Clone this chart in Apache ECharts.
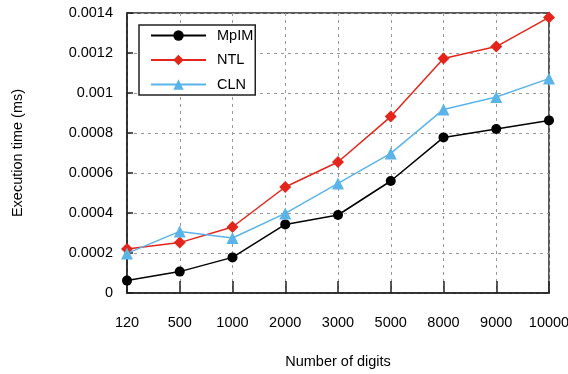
<!DOCTYPE html>
<html>
<head>
<meta charset="utf-8">
<script src="https://cdn.jsdelivr.net/npm/echarts@6/dist/echarts.min.js"></script>
<style>
  html, body { margin: 0; padding: 0; background: #fff; }
  #chart { width: 568px; height: 374px; }
</style>
</head>
<body>
<div id="chart"></div>
<script>
// Digit counts tested on the horizontal axis
const digits = ['120', '500', '1000', '2000', '3000', '5000', '8000', '9000', '10000'];

// Execution time in ms for each library
const mpimTimes = [0.000062, 0.000107, 0.000178, 0.000343, 0.00039, 0.00056, 0.000778, 0.00082, 0.000863];
const ntlTimes  = [0.00022, 0.000252, 0.00033, 0.00053, 0.000655, 0.000882, 0.001172, 0.001232, 0.001378];
const clnTimes  = [0.000198, 0.000308, 0.000275, 0.000398, 0.000548, 0.000698, 0.000918, 0.00098, 0.001072];

const FONT = 'Liberation Sans, Arial, Helvetica, sans-serif';
const FS = 14.5;

const chart = echarts.init(document.getElementById('chart'), null, { renderer: 'canvas' });

function lineSeries(name, data, color, symbol, size) {
  return {
    name: name,
    type: 'line',
    data: data,
    symbol: symbol,
    symbolSize: size,
    showAllSymbol: true,
    lineStyle: { color: color, width: 1.5 },
    itemStyle: { color: color, borderWidth: 0 },
    emphasis: { disabled: true },
    z: 3
  };
}

chart.setOption({
  animation: false,
  backgroundColor: '#fff',
  textStyle: { fontFamily: FONT },
  grid: {
    left: 127, right: 19, top: 13, bottom: 81,
    outerBoundsMode: 'none',
    containLabel: false,
    show: true, borderColor: '#222', borderWidth: 1.5, backgroundColor: 'transparent'
  },
  legend: {
    orient: 'vertical',
    left: 139, top: 25,
    padding: [3, 2, 3, 11],
    itemWidth: 55, itemHeight: 13, itemGap: 9.5,
    backgroundColor: '#fff',
    borderColor: '#222', borderWidth: 1.5, borderRadius: 0,
    textStyle: { fontSize: FS, color: '#000', fontFamily: FONT, padding: [0, 0, 0, 6] },
    data: ['MpIM', 'NTL', 'CLN'],
    z: 10
  },
  xAxis: {
    type: 'category',
    data: digits,
    boundaryGap: false,
    axisLine: { show: true, lineStyle: { color: '#222', width: 1.5 } },
    axisTick: { show: true, inside: true, length: 12, alignWithLabel: true, lineStyle: { color: '#222', width: 1.5 } },
    axisLabel: { color: '#000', fontSize: FS, margin: 22, fontFamily: FONT, interval: 0, hideOverlap: false },
    splitLine: { show: true, lineStyle: { color: '#999', type: [3, 4], width: 1 } }
  },
  yAxis: {
    type: 'value',
    min: 0, max: 0.0014, interval: 0.0002,
    name: 'Execution time (ms)',
    nameLocation: 'middle',
    nameGap: 102,
    nameTextStyle: { fontSize: FS, color: '#000', fontFamily: FONT },
    axisLine: { show: true, lineStyle: { color: '#222', width: 1.5 } },
    axisTick: { show: true, inside: true, length: 6, lineStyle: { color: '#222', width: 1.5 } },
    axisLabel: {
      color: '#000', fontSize: FS, margin: 14, fontFamily: FONT,
      formatter: v => String(+v.toFixed(4))
    },
    splitLine: { show: true, lineStyle: { color: '#999', type: [3, 4], width: 1 } }
  },
  graphic: [{
    type: 'text',
    x: 338,
    y: 362,
    style: {
      text: 'Number of digits', fill: '#000', font: FS + 'px ' + FONT,
      textAlign: 'center', textVerticalAlign: 'middle'
    }
  }],
  series: [
    lineSeries('MpIM', mpimTimes, '#000000', 'circle', 10),
    lineSeries('NTL', ntlTimes, '#e3251b', 'diamond', 12),
    lineSeries('CLN', clnTimes, '#5bb4e8', 'triangle', 12)
  ]
});
</script>
</body>
</html>
